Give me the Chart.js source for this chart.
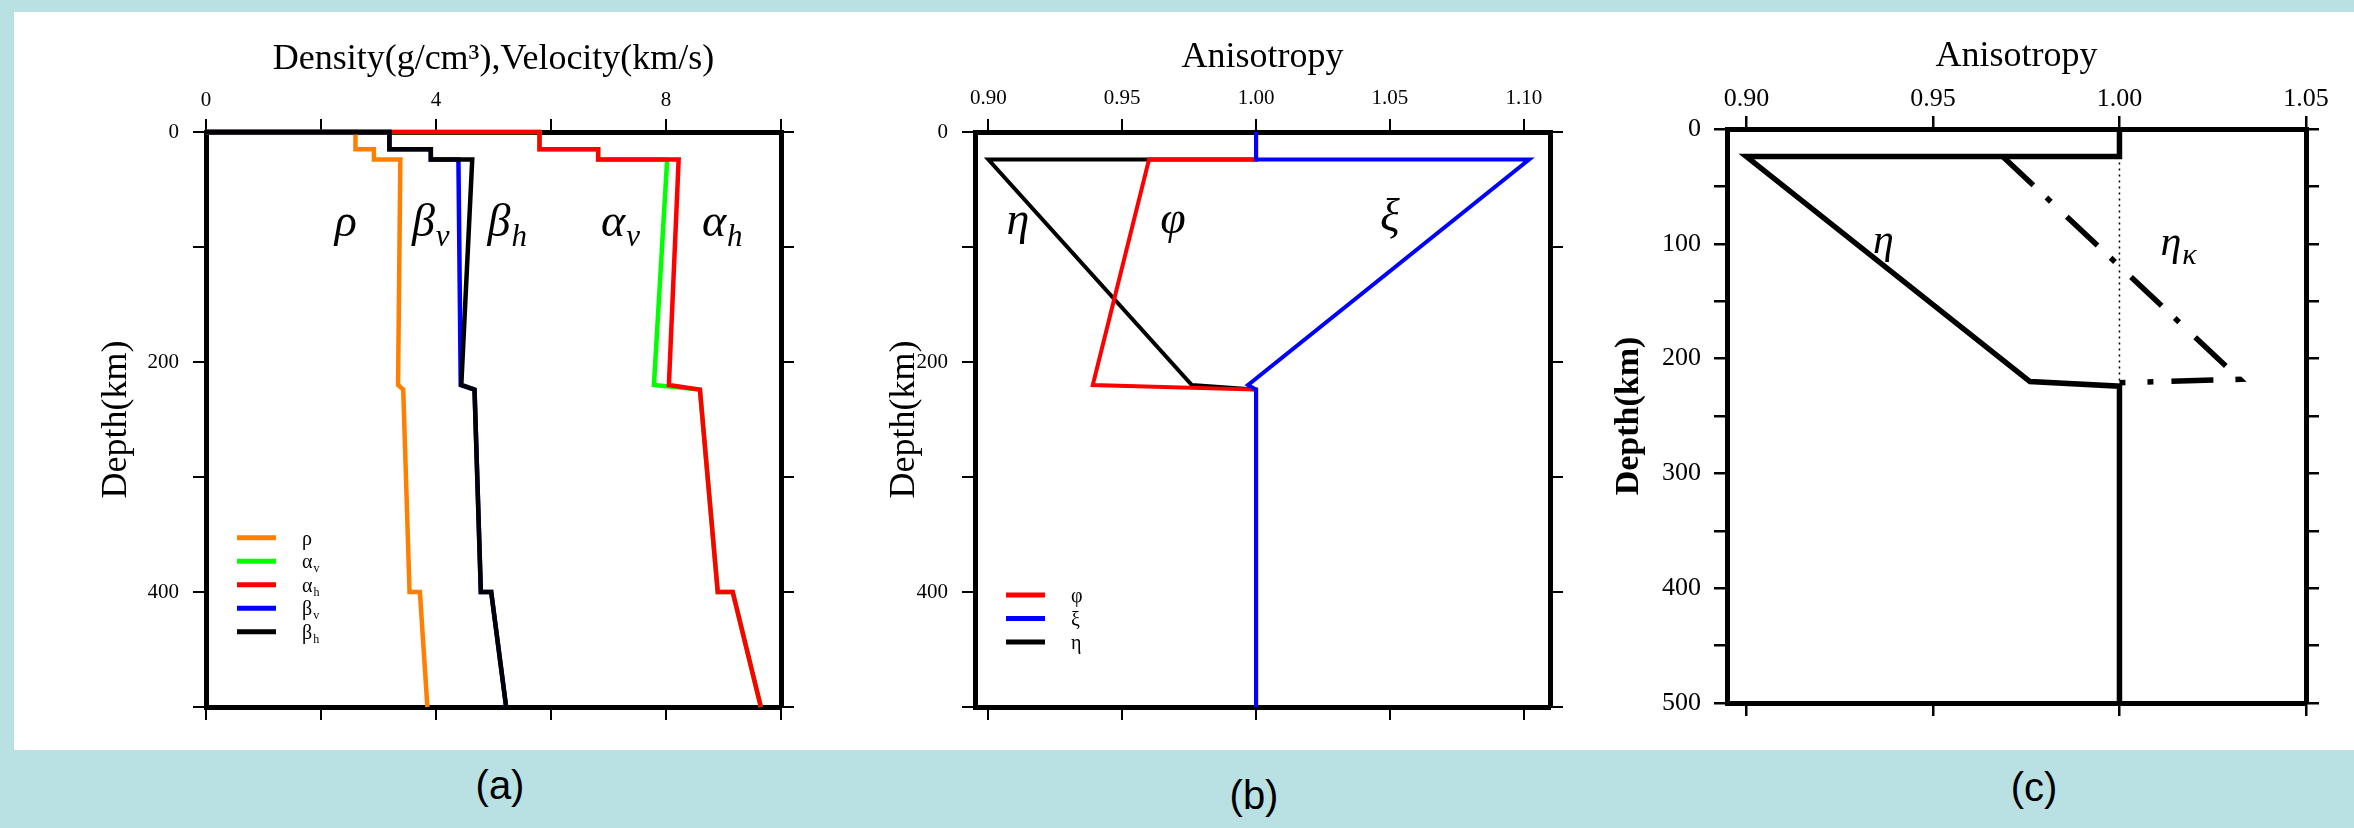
<!DOCTYPE html>
<html>
<head>
<meta charset="utf-8">
<script src="https://cdn.jsdelivr.net/npm/chart.js@4.4.1/dist/chart.umd.min.js"></script>
<style>
  html, body { margin: 0; padding: 0; }
  body { width: 2354px; height: 828px; background: #b9e0e3; position: relative; overflow: hidden; }
  #sheet { position: absolute; left: 14px; top: 12px; width: 2340px; height: 738px; background: #fff; }
  canvas { position: absolute; top: 12px; }
  .tag { position: absolute; transform: translate(-50%, -50%); font-family: "Liberation Sans Narrow", "Liberation Sans", Arial, sans-serif; font-size: 40px; color: #000; }
</style>
</head>
<body>
<div id="sheet"></div>
<canvas id="chartA" width="851" height="738" style="left:14px"></canvas>
<canvas id="chartB" width="725" height="738" style="left:865px"></canvas>
<canvas id="chartC" width="764" height="738" style="left:1590px"></canvas>
<div class="tag" style="left:500px;top:785px">(a)</div>
<div class="tag" style="left:1254px;top:795px">(b)</div>
<div class="tag" style="left:2034px;top:787px">(c)</div>

<script>
// ---------- DATA ----------
// (a) density & velocity profiles, depth in km
const depthA = [0, 0, 15, 15, 24, 24, 220, 224, 400, 400, 500];
const rhoA   = [0, 2.6, 2.6, 2.92, 2.92, 3.38, 3.34, 3.43, 3.54, 3.72, 3.85];
const alphaV = [0, 5.8, 5.8, 6.82, 6.82, 8.02, 7.79, 8.59, 8.9, 9.16, 9.65];
const alphaH = [0, 5.8, 5.8, 6.82, 6.82, 8.22, 8.05, 8.59, 8.9, 9.16, 9.65];
const betaV  = [0, 3.19, 3.19, 3.91, 3.91, 4.39, 4.43, 4.67, 4.78, 4.96, 5.22];
const betaH  = [0, 3.19, 3.19, 3.91, 3.91, 4.63, 4.44, 4.67, 4.78, 4.96, 5.22];
const namesA = ['ρ', 'α_v', 'α_h', 'β_v', 'β_h'];
const xTicksA  = [0, 2, 4, 6, 8, 10];
const xLabelsA = ['0', '', '4', '', '8', ''];

// (b) anisotropy parameters
const depthB = [0, 24, 24, 220, 224, 500];
const phiB   = [1, 1, 0.96, 0.939, 1, 1];
const xiB    = [1, 1, 1.102, 0.997, 1, 1];
const etaB   = [1, 1, 0.9, 0.976, 1, 1];
const namesB = ['φ', 'ξ', 'η'];
const xTicksB  = [0.90, 0.95, 1.00, 1.05, 1.10];
const xLabelsB = ['0.90', '0.95', '1.00', '1.05', '1.10'];

// shared depth ticks for (a) and (b)
const yTicksAB  = [0, 100, 200, 300, 400, 500];
const yLabelsAB = ['0', '', '200', '', '400', ''];

// (c) eta vs eta_kappa
const depthC  = [0, 24, 24, 220, 224, 500];
const etaC    = [1, 1, 0.9, 0.976, 1, 1];
const depthK  = [24, 218, 221];
const etaK    = [0.9687, 1.0323, 1.0];
const depthRef = [24, 224];
const refC     = [1, 1];
const xTicksC  = [0.90, 0.95, 1.00, 1.05];
const xLabelsC = ['0.90', '0.95', '1.00', '1.05'];
const yTicksC  = [0, 50, 100, 150, 200, 250, 300, 350, 400, 450, 500];
const yLabelsC = ['0', '', '100', '', '200', '', '300', '', '400', '', '500'];

// ---------- HELPERS ----------
const SERIF = '"Liberation Serif", "Times New Roman", serif';
Chart.defaults.color = '#000';

function series(depth, vals) {
  return vals.map((v, i) => ({ x: v, y: depth[i] }));
}

function lineSet(label, data, color, width, order, extra) {
  return Object.assign({
    label: label, data: data, borderColor: color, backgroundColor: color,
    borderWidth: width, showLine: true, pointRadius: 0, pointHoverRadius: 0,
    tension: 0, fill: false, borderJoinStyle: 'miter', borderCapStyle: 'butt',
    clip: false, order: order
  }, extra || {});
}

// text like "α_v": main glyph + smaller lowered subscript
function drawSym(ctx, txt, x, y, size, subSize, style, align) {
  const parts = txt.split('_');
  const fMain = style + ' ' + size + 'px ' + SERIF;
  const fSub = style + ' ' + subSize + 'px ' + SERIF;
  ctx.font = fMain;
  const w1 = ctx.measureText(parts[0]).width;
  ctx.font = fSub;
  const w2 = parts[1] ? ctx.measureText(parts[1]).width : 0;
  let x0 = align === 'left' ? x : x - (w1 + w2) / 2;
  ctx.textAlign = 'left';
  ctx.textBaseline = 'middle';
  ctx.fillStyle = '#000';
  ctx.font = fMain;
  ctx.fillText(parts[0], x0, y);
  if (parts[1]) {
    ctx.font = fSub;
    ctx.fillText(parts[1], x0 + w1 + 1, y + size * 0.3);
  }
}

function symbolPlugin(items, size, subSize) {
  return {
    id: 'symbols',
    afterDatasetsDraw(chart) {
      const ctx = chart.ctx, sx = chart.scales.x, sy = chart.scales.y;
      ctx.save();
      items.forEach(it => drawSym(ctx, it.text, sx.getPixelForValue(it.x), sy.getPixelForValue(it.y), size, subSize, 'italic', 'center'));
      ctx.restore();
    }
  };
}

function keyPlugin(dy) {
  return {
    id: 'keyLines',
    afterDatasetsDraw(chart) {
      const ctx = chart.ctx, ca = chart.chartArea;
      ctx.save();
      chart.data.datasets.forEach((ds, i) => {
        const yy = ca.top + dy + i * 23.5;
        ctx.strokeStyle = ds.borderColor;
        ctx.lineWidth = 5;
        ctx.beginPath();
        ctx.moveTo(ca.left + 31, yy);
        ctx.lineTo(ca.left + 70, yy);
        ctx.stroke();
        drawSym(ctx, ds.label, ca.left + 96, yy + 2, 20, 12, '', 'left');
      });
      ctx.restore();
    }
  };
}

function makeScales(p) {
  const tickFont = { family: SERIF, size: p.tickSize };
  const grid = { drawOnChartArea: false, drawTicks: true, tickLength: 13, color: '#000', lineWidth: p.tickWidth };
  const border = { display: true, color: '#000', width: 5 };
  const setTicks = vals => s => { s.ticks = vals.map(v => ({ value: v })); };
  return {
    x: {
      type: 'linear', position: 'top', min: p.xMin, max: p.xMax,
      afterBuildTicks: setTicks(p.xTicks),
      ticks: { font: tickFont, color: '#000', padding: p.xPad, maxRotation: 0, autoSkip: false,
               callback: (v, i) => p.xLabels[i] },
      grid: grid, border: border,
      title: { display: true, text: p.xTitle, color: '#000', font: { family: SERIF, size: 36 },
               padding: { top: p.titlePad, bottom: 0 } },
      afterFit: s => { s.height = p.top; }
    },
    x2: {
      type: 'linear', position: 'bottom', min: p.xMin, max: p.xMax,
      afterBuildTicks: setTicks(p.xTicks),
      ticks: { display: false },
      grid: grid, border: border,
      afterFit: s => { s.height = p.bottom; }
    },
    y: {
      type: 'linear', position: 'left', reverse: true, min: 0, max: 500,
      afterBuildTicks: setTicks(p.yTicks),
      ticks: { font: tickFont, color: '#000', padding: p.yPad, autoSkip: false,
               callback: (v, i) => p.yLabels[i] },
      grid: grid, border: border,
      title: { display: true, text: 'Depth(km)', color: '#000',
               font: { family: SERIF, size: p.depthSize, weight: p.depthWeight },
               padding: { top: p.depthPad, bottom: 0 } },
      afterFit: s => { s.width = p.left; }
    },
    y2: {
      type: 'linear', position: 'right', reverse: true, min: 0, max: 500,
      afterBuildTicks: setTicks(p.yTicks),
      ticks: { display: false },
      grid: grid, border: border,
      afterFit: s => { s.width = p.right; }
    }
  };
}

function baseOptions(scales) {
  return {
    responsive: false, animation: false, events: [],
    layout: { padding: 0 },
    plugins: { legend: { display: false }, tooltip: { enabled: false } },
    scales: scales
  };
}

// ---------- (a) ----------
const colorsA = ['#ff7f00', '#00ff00', '#ff0000', '#0000ff', '#000000'];
const valsA = [rhoA, alphaV, alphaH, betaV, betaH];
new Chart(document.getElementById('chartA'), {
  type: 'scatter',
  data: { datasets: valsA.map((v, i) => lineSet(namesA[i], series(depthA, v), colorsA[i], 4.5, 5 - i)) },
  options: baseOptions(makeScales({
    xMin: 0, xMax: 10, xTicks: xTicksA, xLabels: xLabelsA, xTitle: 'Density(g/cm³),Velocity(km/s)',
    yTicks: yTicksAB, yLabels: yLabelsAB, tickSize: 21, tickWidth: 2,
    top: 120, bottom: 43, left: 192, right: 84,
    xPad: 6, titlePad: 26, yPad: 14, depthPad: 81, depthSize: 36, depthWeight: 'normal'
  })),
  plugins: [
    symbolPlugin([
      { text: 'ρ', x: 2.43, y: 80 },
      { text: 'β_v', x: 3.9, y: 80 },
      { text: 'β_h', x: 5.23, y: 80 },
      { text: 'α_v', x: 7.2, y: 80 },
      { text: 'α_h', x: 8.97, y: 80 }
    ], 46, 31),
    keyPlugin(405.7)
  ]
});

// ---------- (b) ----------
const colorsB = ['#ff0000', '#0000ff', '#000000'];
const valsB = [phiB, xiB, etaB];
const orderB = [2, 1, 3];
new Chart(document.getElementById('chartB'), {
  type: 'scatter',
  data: { datasets: valsB.map((v, i) => lineSet(namesB[i], series(depthB, v), colorsB[i], 4, orderB[i])) },
  options: baseOptions(makeScales({
    xMin: 0.895, xMax: 1.1098, xTicks: xTicksB, xLabels: xLabelsB, xTitle: 'Anisotropy',
    yTicks: yTicksAB, yLabels: yLabelsAB, tickSize: 21, tickWidth: 2,
    top: 120, bottom: 43, left: 110, right: 40,
    xPad: 8, titlePad: 24, yPad: 14, depthPad: 18, depthSize: 36, depthWeight: 'normal'
  })),
  plugins: [
    symbolPlugin([
      { text: 'η', x: 0.911, y: 78 },
      { text: 'φ', x: 0.969, y: 77 },
      { text: 'ξ', x: 1.05, y: 76 }
    ], 46, 30),
    keyPlugin(463)
  ]
});

// ---------- (c) ----------
const scalesC = makeScales({
  xMin: 0.8948, xMax: 1.05, xTicks: xTicksC, xLabels: xLabelsC, xTitle: 'Anisotropy',
  yTicks: yTicksC, yLabels: yLabelsC, tickSize: 26, tickWidth: 2.5,
  top: 117, bottom: 47, left: 137, right: 48,
  xPad: 1, titlePad: 23, yPad: 13, depthPad: 19, depthSize: 34, depthWeight: 'bold'
});
new Chart(document.getElementById('chartC'), {
  type: 'scatter',
  data: { datasets: [
    lineSet('η', series(depthC, etaC), '#000', 5.5, 1),
    lineSet('η_κ', series(depthK, etaK), '#000', 5.5, 2, { borderDash: [42, 18, 6, 22] }),
    lineSet('ref', series(depthRef, refC), '#000', 1.5, 3, { borderDash: [2, 4] })
  ] },
  options: baseOptions(scalesC),
  plugins: [
    symbolPlugin([
      { text: 'η', x: 0.9367, y: 98 },
      { text: 'η_κ', x: 1.0157, y: 100 }
    ], 42, 30)
  ]
});
</script>
</body>
</html>
